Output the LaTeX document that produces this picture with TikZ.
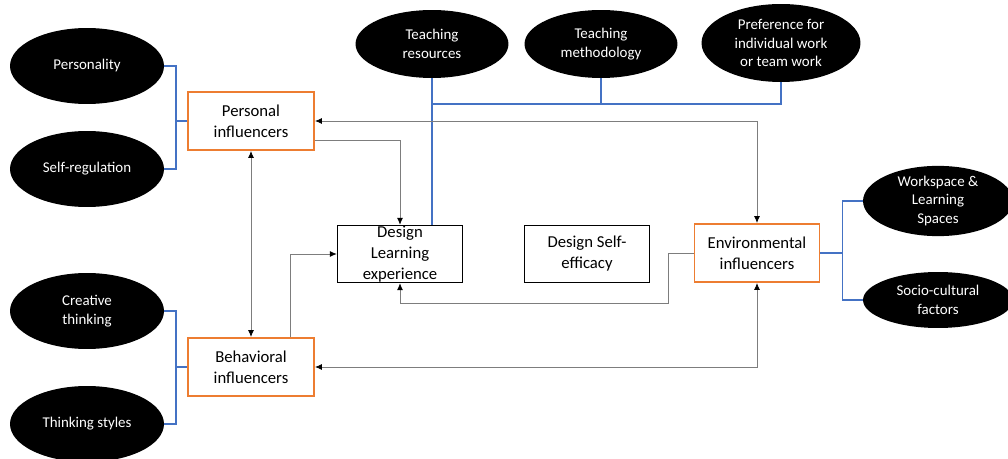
\documentclass[tikz,border=0pt]{standalone}
\usepackage{fontspec}
\setmainfont{Carlito}
\usetikzlibrary{shapes.geometric,arrows.meta}
\definecolor{lineblue}{RGB}{68,114,196}
\definecolor{boxorange}{RGB}{237,125,49}
\definecolor{arrowgray}{RGB}{125,125,125}
\tikzstyle{factor} = [ellipse, fill=black, text=white, align=center, inner sep=0pt, font=\fontsize{8.5}{10.5}\selectfont]
\tikzstyle{influencer} = [draw=boxorange, line width=1.1pt, fill=white, rectangle, minimum width=2.52cm, minimum height=1.16cm, align=center, font=\fontsize{9.5}{12}\selectfont]
\tikzstyle{outcome} = [draw=black, line width=0.8pt, fill=white, rectangle, minimum width=2.5cm, minimum height=1.14cm, inner sep=0pt, align=center, font=\fontsize{9.5}{12}\selectfont]
\tikzstyle{link} = [draw=lineblue, line width=1pt]
\tikzstyle{flow} = [draw=arrowgray, line width=0.5pt, -{Latex[length=4pt,width=3.5pt,color=black]}]
\tikzstyle{bothflow} = [draw=arrowgray, line width=0.5pt, {Latex[length=4pt,width=3.5pt,color=black]}-{Latex[length=4pt,width=3.5pt,color=black]}]

\begin{document}
\begin{tikzpicture}[x=0.02cm, y=-0.02cm]
\useasboundingbox (0,0) rectangle (1008,459);

% factors (black ellipses)
\node[factor, minimum width=3.08cm, minimum height=1.52cm] (persty) at (87,66) {Personality};
\node[factor, minimum width=3.08cm, minimum height=1.52cm] (selfreg) at (87,169) {Self-regulation};
\node[factor, minimum width=3.08cm, minimum height=1.52cm] (creative) at (87,311) {Creative\\thinking};
\node[factor, minimum width=3.08cm, minimum height=1.52cm] (thinkst) at (87,424) {Thinking styles};
\node[factor, minimum width=3.06cm, minimum height=1.36cm] (teachres) at (432,44) {Teaching\\resources};
\node[factor, minimum width=3.06cm, minimum height=1.36cm] (teachmeth) at (601,44) {Teaching\\methodology};
\node[factor, minimum width=3.18cm, minimum height=1.56cm] (pref) at (781,43) {Preference for\\individual work\\or team work};
\node[factor, minimum width=3.0cm, minimum height=1.32cm] (workspace) at (938,201) {Workspace \&\\Learning\\Spaces};
\node[factor, minimum width=3.0cm, minimum height=1.12cm] (sociocult) at (938,300) {Socio-cultural\\factors};

% influencers and outcomes
\node[influencer] (personal) at (251,121) {Personal\\influencers};
\node[influencer] (behav) at (251,367) {Behavioral\\influencers};
\node[influencer, minimum width=2.5cm] (environ) at (757,253) {Environmental\\influencers};
\node[outcome] (dle) at (400,254) {Design\\Learning\\experience};
\node[outcome] (dse) at (587,254) {Design Self-\\efficacy};

% blue brackets
\draw[link] (persty.east) -- ++(12,0) |- (personal.west);
\draw[link] (selfreg.east) -- ++(12,0) |- (personal.west);
\draw[link] (creative.east) -- ++(12,0) |- (behav.west);
\draw[link] (thinkst.east) -- ++(12,0) |- (behav.west);
\draw[link] (teachres.south) -- (teachres.south |- dle.north);
\draw[link] (teachmeth.south) -- ++(0,26) -| (teachres.south);
\draw[link] (pref.south) -- ++(0,22) -| (teachres.south);
\draw[link] (environ.east) -- ++(22,0) |- (workspace.west);
\draw[link] (environ.east) -- ++(22,0) |- (sociocult.west);

% gray arrows
\draw[bothflow] (personal.east) -| (environ.north);
\draw[flow] (personal.-17) -| (dle.north);
\draw[bothflow] (personal.south) -- (behav.north);
\draw[flow] (behav.37) |- (dle.west);
\draw[flow] (environ.west) -- ++(-25,0) -- ++(0,50) -| (dle.south);
\draw[bothflow] (behav.east) -| (environ.south);
\end{tikzpicture}
\end{document}
